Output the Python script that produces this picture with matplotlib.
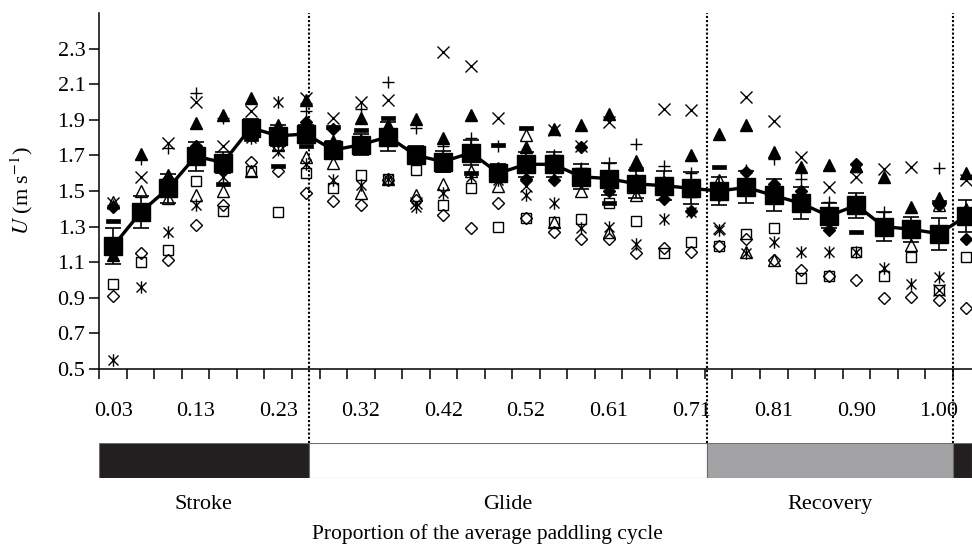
"""Swimming speed U over the paddling cycle: individual trials plus mean +/- s.e."""

import matplotlib
matplotlib.use("Agg")
import matplotlib.pyplot as plt
import numpy as np
from matplotlib.path import Path
from matplotlib.patches import Rectangle
from matplotlib.transforms import blended_transform_factory

plt.rcParams["font.family"] = ["Liberation Serif", "DejaVu Serif"]
plt.rcParams["mathtext.fontset"] = "stix"

# x tick labels (every third category) and phase info
tick_labels = ["0.03", "0.13", "0.23", "0.32", "0.42", "0.52",
               "0.61", "0.71", "0.81", "0.90", "1.00"]
phase_names = ["Stroke", "Glide", "Recovery"]
phase_edges = [7.1, 21.57, 30.5]  # dotted lines, in category units

# mean speed and error (m/s), one value per category
mean_u = [1.19, 1.38, 1.515, 1.695, 1.66, 1.855, 1.81, 1.82, 1.73, 1.76, 1.805,
          1.70, 1.665, 1.715, 1.60, 1.65, 1.65, 1.58, 1.57, 1.54, 1.53, 1.515,
          1.50, 1.52, 1.475, 1.43, 1.36, 1.42, 1.30, 1.285, 1.26, 1.36]
err_u = [0.10, 0.09, 0.08, 0.08, 0.06, 0.05, 0.06, 0.05, 0.05, 0.06, 0.08,
         0.05, 0.06, 0.07, 0.05, 0.07, 0.07, 0.07, 0.09, 0.08, 0.08, 0.09,
         0.08, 0.09, 0.09, 0.09, 0.07, 0.07, 0.08, 0.07, 0.09, 0.09]

# individual sequences
tri_filled = [1.14, 1.71, 1.59, 1.88, 1.925, 2.02, 1.87, 2.01, 1.78, 1.91, 1.87,
              1.905, 1.80, 1.925, 1.63, 1.745, 1.85, 1.87, 1.935, 1.67, 1.55, 1.70,
              1.82, 1.87, 1.72, 1.635, 1.645, 1.64, 1.58, 1.41, 1.46, 1.60]
cross = [1.43, 1.58, 1.77, 2.00, 1.75, 1.95, 1.72, 2.02, 1.91, 2.00, 2.01,
         1.43, 2.28, 2.20, 1.91, 1.53, 1.84, 1.75, 1.885, 1.55, 1.96, 1.955,
         1.29, 2.03, 1.895, 1.69, 1.52, 1.58, 1.625, 1.635, 0.945, 1.56]
plus = [1.42, 1.68, 1.74, 2.05, 1.91, 1.85, 1.73, 1.95, 1.72, 1.96, 2.11,
        1.855, 1.75, 1.80, 1.75, 1.65, 1.70, 1.63, 1.66, 1.765, 1.64, 1.60,
        1.52, 1.62, 1.68, 1.57, 1.44, 1.45, 1.38, 1.30, 1.63, 1.40]
star = [0.55, 0.96, 1.27, 1.42, 1.58, 1.80, 2.00, 1.65, 1.56, 1.535, 1.565,
        1.41, 1.49, 1.58, 1.56, 1.48, 1.435, 1.29, 1.30, 1.20, 1.345, 1.38,
        1.28, 1.15, 1.215, 1.16, 1.16, 1.155, 1.07, 0.98, 1.015, 1.38]
sq_open = [0.98, 1.10, 1.17, 1.555, 1.39, 1.61, 1.38, 1.60, 1.515, 1.59, 1.565,
           1.62, 1.42, 1.515, 1.30, 1.35, 1.325, 1.34, 1.43, 1.33, 1.15, 1.215,
           1.19, 1.26, 1.29, 1.01, 1.025, 1.155, 1.02, 1.13, 0.945, 1.13]
dia_open = [0.91, 1.15, 1.11, 1.31, 1.42, 1.665, 1.61, 1.49, 1.445, 1.42, 1.56,
            1.45, 1.365, 1.29, 1.43, 1.35, 1.27, 1.23, 1.23, 1.15, 1.18, 1.155,
            1.19, 1.23, 1.115, 1.055, 1.025, 1.00, 0.90, 0.905, 0.89, 0.84]
tri_open = [1.44, 1.50, 1.46, 1.475, 1.50, 1.61, 1.76, 1.69, 1.655, 1.49, 1.57,
            1.48, 1.54, 1.61, 1.53, 1.815, 1.325, 1.50, 1.27, 1.48, 1.52, 1.50,
            1.56, 1.155, 1.115, 1.45, 1.36, 1.64, 1.30, 1.195, 1.42, 1.40]
dia_filled = [1.41, 1.40, 1.57, 1.75, 1.62, 1.82, 1.78, 1.89, 1.85, 1.78, 1.80,
              1.72, 1.68, 1.72, 1.62, 1.57, 1.56, 1.745, 1.50, 1.56, 1.455, 1.39,
              1.48, 1.605, 1.54, 1.50, 1.28, 1.65, 1.30, 1.29, 1.42, 1.23]
dash = [1.33, 1.36, 1.53, 1.72, 1.54, 1.79, 1.64, 1.75, 1.86, 1.84, 1.91,
        1.74, 1.62, 1.60, 1.76, 1.855, 1.66, 1.60, 1.43, 1.625, 1.50, 1.55,
        1.635, 1.55, 1.50, 1.45, 1.38, 1.27, 1.33, 1.27, 1.44, 1.38]

x = np.arange(len(mean_u))

# custom markers: excel style asterisk and dash
star_path = Path([(-1, -1), (1, 1), (-1, 1), (1, -1), (0, -1.25), (0, 1.25)],
                 [Path.MOVETO, Path.LINETO] * 3)
dash_path = Path([(-1, -0.3), (1, -0.3), (1, 0.3), (-1, 0.3), (-1, -0.3)],
                 [Path.MOVETO, Path.LINETO, Path.LINETO, Path.LINETO, Path.CLOSEPOLY])

series = [
    (tri_filled, dict(marker="^", ms=8.5, mfc="k", mec="k")),
    (cross, dict(marker="x", ms=8, mec="k", mew=1.0)),
    (plus, dict(marker="+", ms=9, mec="k", mew=1.0)),
    (star, dict(marker=star_path, ms=9, mec="k", mew=1.0)),
    (sq_open, dict(marker="s", ms=7.5, mfc="none", mec="k", mew=1.0)),
    (dia_open, dict(marker="D", ms=6.3, mfc="none", mec="k", mew=1.0)),
    (tri_open, dict(marker="^", ms=8.5, mfc="none", mec="k", mew=1.0)),
    (dia_filled, dict(marker="D", ms=6.3, mfc="k", mec="k")),
    (dash, dict(marker=dash_path, ms=10, mfc="k", mec="k", mew=0.5)),
]

W, H = 972, 554
fig = plt.figure(figsize=(W / 100, H / 100), dpi=100)
left, right = 99.3, 972
ax = fig.add_axes([left / W, (H - 369) / H, (right - left) / W, 356 / H])

for vals, st in series:
    ax.plot(x, vals, ls="none", zorder=3, **st)

ax.errorbar(x, mean_u, yerr=err_u, fmt="none", ecolor="k", elinewidth=1.2,
            capsize=5.5, capthick=1.2, zorder=4)
ax.plot(x, mean_u, color="k", lw=2.4, marker="s", ms=13, mfc="k", mec="k", zorder=5)

ax.set_xlim(-0.5, 31.2)
ax.set_ylim(0.5, 2.5)
ax.spines["top"].set_visible(False)
ax.spines["right"].set_visible(False)
ax.spines["left"].set_linewidth(1.1)
ax.spines["bottom"].set_linewidth(1.1)

ax.set_yticks(np.arange(0.5, 2.31, 0.2))
ax.set_yticklabels([f"{v:.1f}" for v in np.arange(0.5, 2.31, 0.2)])
ax.tick_params(axis="y", direction="out", length=7, width=1.1, labelsize=16, pad=3)

ax.set_xticks(x[::3])
ax.set_xticklabels(tick_labels)
ax.set_xticks(np.arange(-0.5, 31, 1), minor=True)
ax.tick_params(axis="x", which="major", length=0, labelsize=16, pad=24)
ax.tick_params(axis="x", which="minor", direction="out", length=7, width=1.1)

ax.set_ylabel(r"$U$ (m s$^{-1}$)", fontsize=16)
ax.yaxis.set_label_coords(-0.074, 0.5)

# dotted phase boundaries, running down to the phase bar
for xe in phase_edges:
    ax.axvline(xe, ymin=-0.208, ymax=1.0, color="k", lw=1.5,
               ls=(0, (1, 1)), clip_on=False, zorder=6)

# phase bar under the axis
bar = fig.add_axes([left / W, (H - 478) / H, (right - left) / W, 35 / H])
bar.set_xlim(-0.5, 31.2)
bar.set_ylim(0, 1)
bar.axis("off")
seg_edges = [-0.5] + phase_edges + [31.2]
seg_colors = ["#231f20", "white", "#a3a3a6", "#231f20"]
for a, b, c in zip(seg_edges[:-1], seg_edges[1:], seg_colors):
    bar.add_patch(Rectangle((a, 0), b - a, 1, facecolor=c, edgecolor="#6d6d6d", lw=0.8))

trans = blended_transform_factory(bar.transData, bar.transAxes)
for name, a, b in zip(phase_names, seg_edges[:-2], seg_edges[1:-1]):
    bar.text((a + b) / 2, -0.75, name, transform=trans, ha="center", va="center", fontsize=16)

fig.text(487 / W, (H - 534) / H, "Proportion of the average paddling cycle",
         ha="center", va="center", fontsize=15.5)

fig.savefig("out.png", dpi=100)
